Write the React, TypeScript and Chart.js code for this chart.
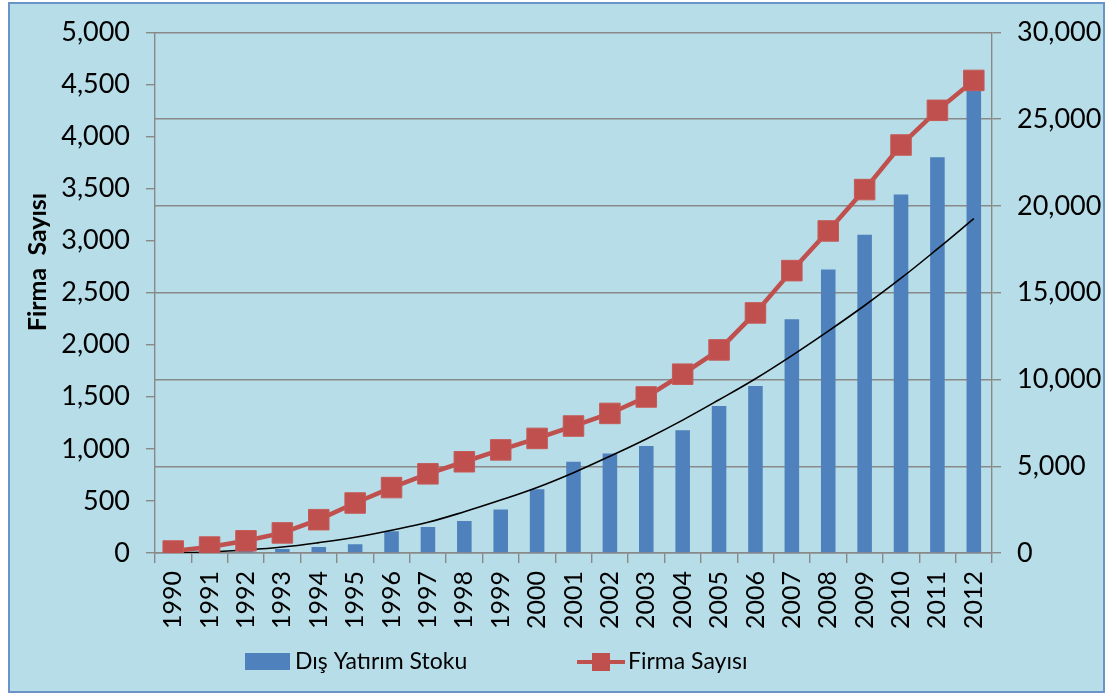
import React, { useEffect, useRef } from 'react';
import { Chart, registerables } from 'chart.js';

Chart.register(...registerables);

const years = ['1990', '1991', '1992', '1993', '1994', '1995', '1996', '1997', '1998', '1999', '2000', '2001', '2002', '2003', '2004', '2005', '2006', '2007', '2008', '2009', '2010', '2011', '2012'];
const disYatirimStoku = [0, 30, 130, 230, 340, 510, 1260, 1500, 1850, 2500, 3670, 5260, 5730, 6170, 7070, 8470, 9620, 13470, 16330, 18330, 20650, 22800, 26650];
const firmaSayisi = [19, 57, 117, 193, 320, 480, 628, 760, 876, 990, 1100, 1219, 1340, 1498, 1717, 1950, 2305, 2711, 3092, 3489, 3917, 4250, 4537];
const trendLine = [0, 10, 29, 57, 100, 152, 219, 295, 396, 508, 629, 771, 929, 1095, 1276, 1471, 1673, 1895, 2130, 2376, 2638, 2919, 3210];

const legendLabels = ['Dış Yatırım Stoku', 'Firma Sayısı'];
const yTitle = 'Firma  Sayısı';

const FONT = 'Lato';
const BLUE = '#4F81BD';
const RED = '#C0504D';
const GRID = '#898989';
const BG = '#B7DDE8';

const fmt = (v: number | string) => Number(v).toLocaleString('en-US');

const framePlugin = {
  id: 'frame',
  beforeDraw(chart: any) {
    const { ctx, width, height } = chart;
    ctx.save();
    ctx.fillStyle = '#ffffff';
    ctx.fillRect(0, 0, width, height);
    ctx.fillStyle = BG;
    ctx.fillRect(8, 2, 1097, 691);
    ctx.strokeStyle = '#6A93C8';
    ctx.lineWidth = 2;
    ctx.strokeRect(9, 3, 1095, 689);
    ctx.restore();
  },
  afterDraw(chart: any) {
    const { ctx } = chart;
    ctx.save();
    // y axis title
    ctx.translate(38, 262);
    ctx.rotate(-Math.PI / 2);
    ctx.font = `bold 25px ${FONT}`;
    ctx.fillStyle = '#000';
    ctx.textAlign = 'center';
    ctx.textBaseline = 'middle';
    ctx.fillText(yTitle, 0, 0);
    ctx.restore();

    // legend
    ctx.save();
    const ly = 662;
    ctx.fillStyle = BLUE;
    ctx.fillRect(245, 653, 45, 17);
    ctx.font = `23px ${FONT}`;
    ctx.fillStyle = '#000';
    ctx.textAlign = 'left';
    ctx.textBaseline = 'middle';
    ctx.fillText(legendLabels[0], 295, ly);
    ctx.strokeStyle = RED;
    ctx.lineWidth = 4;
    ctx.beginPath();
    ctx.moveTo(577, ly);
    ctx.lineTo(625, ly);
    ctx.stroke();
    ctx.fillStyle = RED;
    ctx.fillRect(592, 653, 18, 18);
    ctx.fillStyle = '#000';
    ctx.fillText(legendLabels[1], 628, ly);
    ctx.restore();
  },
};

export default function App() {
  const ref = useRef<HTMLCanvasElement>(null);
  useEffect(() => {
    const chart = new Chart(ref.current as HTMLCanvasElement, {
      type: 'bar',
      data: {
        labels: years,
        datasets: [
          {
            type: 'line',
            label: legendLabels[1],
            data: firmaSayisi,
            yAxisID: 'y',
            borderColor: RED,
            borderWidth: 4.5,
            pointStyle: 'rect',
            pointRadius: 14.5,
            pointBackgroundColor: RED,
            pointBorderColor: '#C55A57',
            pointBorderWidth: 1,
            order: 0,
          } as any,
          {
            type: 'line',
            label: 'Trend',
            data: trendLine,
            yAxisID: 'y',
            borderColor: '#000',
            borderWidth: 1.6,
            pointRadius: 0,
            tension: 0.4,
            order: 1,
          } as any,
          {
            type: 'bar',
            label: legendLabels[0],
            data: disYatirimStoku,
            yAxisID: 'y1',
            backgroundColor: BLUE,
            borderWidth: 0,
            barPercentage: 0.4,
            categoryPercentage: 1,
            order: 2,
          } as any,
        ],
      },
      options: {
        responsive: false,
        animation: false,
        devicePixelRatio: 1,
        layout: { padding: { top: 28, left: 0, right: 0, bottom: 0 } },
        plugins: { legend: { display: false }, tooltip: { enabled: false } },
        scales: {
          x: {
            type: 'category',
            offset: true,
            grid: { offset: true, drawOnChartArea: false, tickLength: 10, color: GRID, lineWidth: 1.4 },
            border: { color: GRID, width: 1.4 },
            ticks: {
              minRotation: 90,
              maxRotation: 90,
              autoSkip: false,
              padding: 8,
              color: '#000',
              font: { family: FONT, size: 25 },
            },
            afterFit: (s: any) => { s.height = 143; },
          },
          y: {
            position: 'left',
            min: 0,
            max: 5000,
            ticks: { stepSize: 500, color: '#000', padding: 16, font: { family: FONT, size: 27 }, callback: (v: any) => fmt(v) },
            grid: { drawOnChartArea: false, tickLength: 9, color: GRID, lineWidth: 1.4 },
            border: { color: GRID, width: 1.4 },
            afterFit: (s: any) => { s.width = 155; },
          },
          y1: {
            position: 'right',
            min: 0,
            max: 30000,
            ticks: { stepSize: 5000, color: '#000', padding: 16, font: { family: FONT, size: 27 }, callback: (v: any) => fmt(v) },
            grid: { drawOnChartArea: true, tickLength: 9, color: GRID, lineWidth: 1.4 },
            border: { color: GRID, width: 1.4 },
            afterFit: (s: any) => { s.width = 125; },
          },
        },
      },
      plugins: [framePlugin],
    });
    return () => chart.destroy();
  }, []);
  return (
    <div style={{ position: 'absolute', left: 0, top: 0, width: 1117, height: 696 }}>
      <canvas ref={ref} width={1117} height={696} style={{ display: 'block' }} />
    </div>
  );
}
